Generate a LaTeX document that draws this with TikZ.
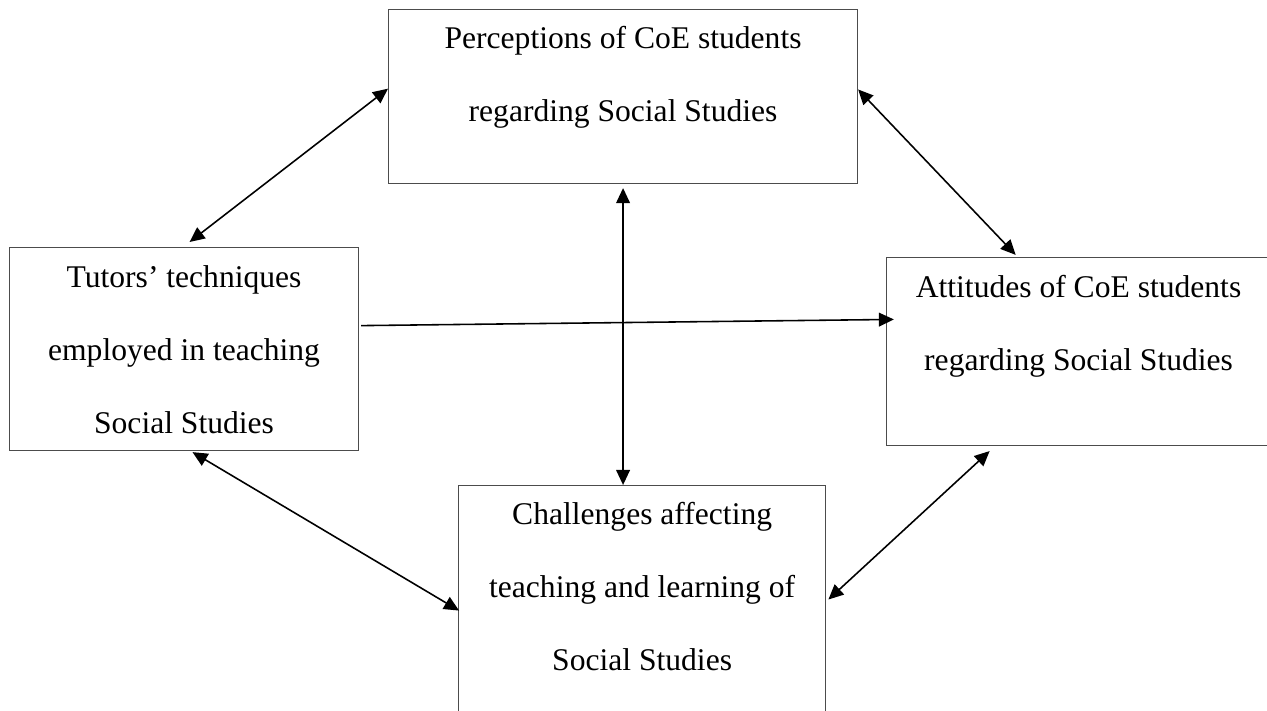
\documentclass[tikz,border=0pt]{standalone}
\usepackage{fontspec}
\setmainfont{Liberation Serif}
\usetikzlibrary{arrows.meta}

\begin{document}
\begin{tikzpicture}[x=0.38pt,y=-0.38pt,
    unit/.style={draw=black!70,line width=0.45pt,anchor=north west,inner sep=0pt,align=flush center,font=\fontsize{12}{27.7}\selectfont},
    link/.style={line width=0.6pt,-{Triangle[length=5.7pt,width=5.2pt]}},
    twoway/.style={link,{Triangle[length=5.7pt,width=5.2pt]}-{Triangle[length=5.7pt,width=5.2pt]}}]
\useasboundingbox (0,0) rectangle (1267,711);
\clip (0,0) rectangle (1267,711);
\node[unit,text width=178.2pt,text height=14.8pt,text depth=51.3pt] (P) at (388,9)
    {Perceptions of CoE students\\regarding Social Studies};
\node[unit,text width=132.6pt,text height=15.2pt,text depth=61.9pt] (T) at (9,247)
    {Tutors’ techniques\\employed in teaching\\Social Studies};
\node[unit,text width=145.9pt,text height=15.2pt,text depth=56.2pt] (A) at (886,257)
    {Attitudes of CoE students\\regarding Social Studies};
\node[unit,text width=139.5pt,text height=14.8pt,text depth=80.2pt] (C) at (458,485)
    {Challenges affecting\\teaching and learning of\\Social Studies};
    \path ([yshift=3pt]P.west) edge[twoway] ([shift={(2.1pt,1.9pt)}]T.north);
    \path ([yshift=2.7pt]P.east) edge[twoway] ([shift={(-23.9pt,0.8pt)}]A.north);
    \path ([yshift=-1.5pt]P.south) edge[twoway] (P.south |- C.north);
    \path ([shift={(0.8pt,8.9pt)}]T.east) edge[link] ([shift={(3pt,12.2pt)}]A.west);
    \path ([shift={(3.2pt,-0.4pt)}]T.south) edge[twoway] ([xshift=0.4pt]C.west);
    \path ([shift={(-33.8pt,-1.9pt)}]A.south) edge[twoway] ([shift={(0.8pt,4.2pt)}]C.east);
\end{tikzpicture}
\end{document}
